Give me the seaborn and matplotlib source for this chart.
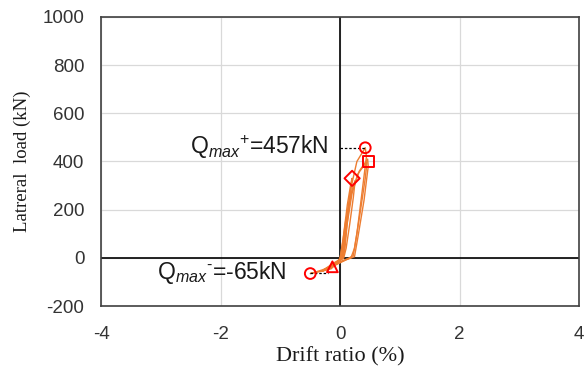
import numpy as np
import pandas as pd
import seaborn as sns
import matplotlib.pyplot as plt

# hysteresis loops, drift ratio (%) vs lateral load (kN)
cyc1_x = [0, 0.04, 0.09, 0.11, 0.08, 0.05, 0.02, -0.04, -0.06, -0.02, 0]
cyc1_y = [0, 60, 150, 170, 100, 20, 0, -12, -18, -8, 0]
cyc2_x = [0, 0.05, 0.12, 0.18, 0.20, 0.17, 0.12, 0.08, 0.05, -0.05, -0.13, -0.08, 0, 0.03]
cyc2_y = [0, 80, 220, 310, 330, 260, 150, 40, 0, -20, -37, -25, -5, 0]
cyc3_x = [0.03, 0.08, 0.16, 0.30, 0.45, 0.42, 0.33, 0.24, 0.18, 0.05, -0.15, -0.30, -0.15, 0, 0.05]
cyc3_y = [0, 120, 250, 350, 400, 330, 180, 40, 0, -10, -40, -55, -45, -10, 0]
cyc4_x = [0.05, 0.10, 0.18, 0.28, 0.42, 0.44, 0.36, 0.28, 0.22, 0.12, -0.10, -0.30, -0.50, -0.30, -0.05, 0.05]
cyc4_y = [0, 140, 290, 400, 457, 420, 260, 100, 10, -5, -30, -50, -65, -55, -15, 0]
cyc5_x = [0.05, 0.11, 0.20, 0.32, 0.46, 0.47, 0.40, 0.30, 0.24, 0.10, -0.10, -0.25, -0.10, 0.05]
cyc5_y = [0, 130, 270, 360, 410, 380, 240, 90, 5, -8, -32, -45, -20, 0]
cyc6_x = [0.02, 0.07, 0.14, 0.22, 0.25, 0.22, 0.16, 0.10, 0.06, -0.04, -0.10, -0.04, 0.02]
cyc6_y = [0, 90, 210, 300, 320, 250, 140, 40, 0, -15, -30, -15, 0]

# marked peaks
mark_x = [0.42, 0.47, 0.20, -0.13, -0.50]
mark_y = [457, 400, 330, -37, -65]
mark_kind = ["o", "s", "D", "^", "o"]

cycles = [(cyc1_x, cyc1_y), (cyc2_x, cyc2_y), (cyc6_x, cyc6_y), (cyc3_x, cyc3_y),
          (cyc4_x, cyc4_y), (cyc5_x, cyc5_y)]
frames = []
for i, (cx, cy) in enumerate(cycles):
    frames.append(pd.DataFrame({"drift": cx, "load": cy, "cycle": i}))
df = pd.concat(frames, ignore_index=True)

sns.set_style("white")
plt.rcParams["font.family"] = ["Liberation Sans", "DejaVu Sans"]
plt.rcParams["axes.unicode_minus"] = False
plt.rcParams["mathtext.fontset"] = "custom"
plt.rcParams["mathtext.rm"] = "Liberation Sans"
plt.rcParams["mathtext.it"] = "Liberation Sans:italic"

fig = plt.figure(figsize=(5.88, 3.67), dpi=100)
ax = fig.add_axes([0.172, 0.166, 0.813, 0.788])

ax.grid(True, color="#d9d9d9", lw=0.9)
ax.axhline(0, color="black", lw=1.2, zorder=2)
ax.axvline(0, color="black", lw=1.2, zorder=2)

sns.lineplot(data=df, x="drift", y="load", units="cycle", estimator=None, sort=False,
             color="#ED7D31", lw=1.0, ax=ax, zorder=3)

for mx, my, mk in zip(mark_x, mark_y, mark_kind):
    sns.scatterplot(x=[mx], y=[my], marker=mk, s=60, facecolor="none",
                    edgecolor="#FF0000", linewidth=1.4, ax=ax, zorder=4)

ax.plot([0, 0.42], [457, 457], ls=(0, (2, 1.5)), color="black", lw=0.9, zorder=3)
ax.plot([-0.5, -0.2], [-62, -62], ls=(0, (2, 1.5)), color="black", lw=0.9, zorder=3)

ax.text(-0.2, 461, "Q$_{max}$$^{+}$=457kN", ha="right", va="center", fontsize=16.5,
        color="#1a1a1a")
ax.text(-0.89, -60, "Q$_{max}$$^{\u2010}$=-65kN", ha="right", va="center", fontsize=16.5,
        color="#1a1a1a")

ax.set_xlim(-4, 4)
ax.set_ylim(-200, 1000)
ax.set_xticks([-4, -2, 0, 2, 4])
ax.set_yticks(range(-200, 1001, 200))
ax.tick_params(labelsize=13.5, length=0, labelcolor="#333333")
ax.tick_params(axis="y", pad=12)
ax.tick_params(axis="x", pad=14)
for s in ax.spines.values():
    s.set_color("#404040")
    s.set_linewidth(1.2)

ax.set_xlabel("Drift ratio (%)", family="Liberation Serif", fontsize=16, labelpad=3,
              color="#1a1a1a")
ax.set_ylabel("Latreral  load (kN)", family="Liberation Serif", fontsize=13.5, labelpad=8,
              color="#1a1a1a")

fig.savefig("out.png", dpi=100)
